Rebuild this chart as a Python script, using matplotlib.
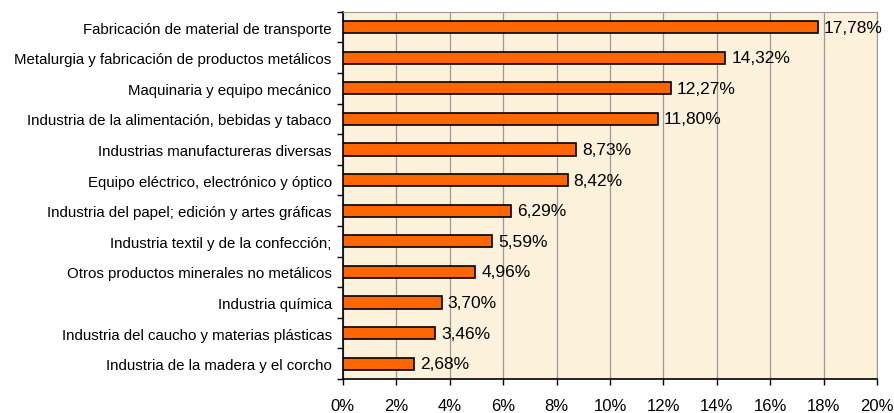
import numpy as np
import matplotlib.pyplot as plt
from matplotlib.ticker import FixedLocator

plt.rcParams['font.family'] = ['Liberation Sans', 'DejaVu Sans']

# sectores industriales y su peso (%)
sectores = [
    "Fabricación de material de transporte",
    "Metalurgia y fabricación de productos metálicos",
    "Maquinaria y equipo mecánico",
    "Industria de la alimentación, bebidas y tabaco",
    "Industrias manufactureras diversas",
    "Equipo eléctrico, electrónico y óptico",
    "Industria del papel; edición y artes gráficas",
    "Industria textil y de la confección;",
    "Otros productos minerales no metálicos",
    "Industria química",
    "Industria del caucho y materias plásticas",
    "Industria de la madera y el corcho",
]
valores = [17.78, 14.32, 12.27, 11.80, 8.73, 8.42, 6.29, 5.59, 4.96, 3.70, 3.46, 2.68]
xticks = [0, 2, 4, 6, 8, 10, 12, 14, 16, 18, 20]

fig = plt.figure(figsize=(8.95, 4.14), dpi=100)
ax = fig.add_axes([0.383, 0.082, 0.597, 0.887])
ax.set_facecolor('#fcf1da')

n = len(sectores)
y = np.arange(n)[::-1]
ax.barh(y, valores, height=0.4, color='#ff6600', edgecolor='black', linewidth=1.2, zorder=3)

for yi, v in zip(y, valores):
    ax.text(v + 0.22, yi, f"{v:.2f}%".replace('.', ','), va='center', ha='left', fontsize=12.5, zorder=4)

ax.set_xlim(0, 20)
ax.set_ylim(-0.5, n - 0.5)
ax.set_xticks(xticks)
ax.set_xticklabels([f"{t}%" for t in xticks], fontsize=12)
ax.tick_params(axis='x', length=4, width=1, pad=10)

ax.set_yticks(y)
ax.set_yticklabels(sectores, fontsize=10.8)
ax.tick_params(axis='y', which='major', length=0, pad=8)
ax.yaxis.set_minor_locator(FixedLocator(np.arange(-0.5, n, 1)))
ax.tick_params(axis='y', which='minor', length=4, width=1)

ax.grid(axis='x', color='#999999', linewidth=0.9, zorder=1)
ax.set_axisbelow(True)

for s in ['top', 'right']:
    ax.spines[s].set_color('#999999')
for s in ['left', 'bottom']:
    ax.spines[s].set_color('black')
    ax.spines[s].set_linewidth(1.2)

fig.savefig('out.png', dpi=100)
